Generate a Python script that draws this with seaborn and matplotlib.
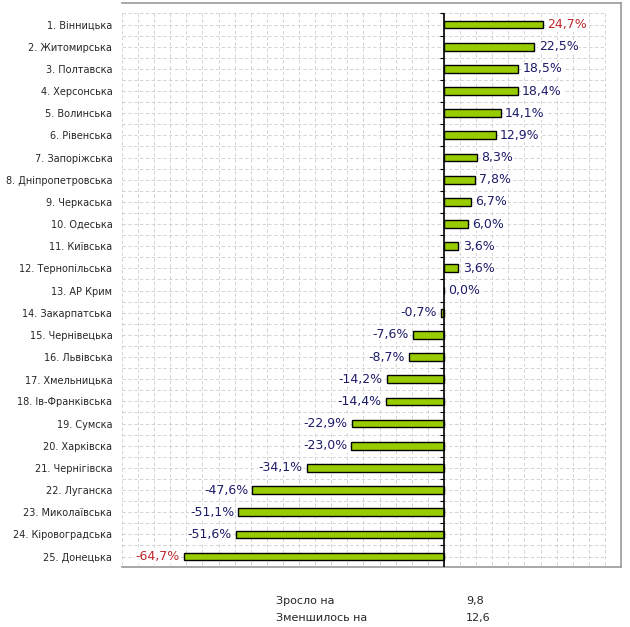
import numpy as np
import pandas as pd
import matplotlib
matplotlib.use('Agg')
import matplotlib.pyplot as plt
import seaborn as sns

regions = ['1. Вінницька', '2. Житомирська', '3. Полтавска', '4. Херсонська', '5. Волинська',
           '6. Рівенська', '7. Запоріжська', '8. Дніпропетровська', '9. Черкаська', '10. Одеська',
           '11. Київська', '12. Тернопільська', '13. АР Крим', '14. Закарпатська', '15. Чернівецька',
           '16. Львівська', '17. Хмельницька', '18. Ів-Франківська', '19. Сумска', '20. Харківска',
           '21. Чернігівска', '22. Луганска', '23. Миколаївська', '24. Кіровоградська', '25. Донецька']
change = [24.7, 22.5, 18.5, 18.4, 14.1, 12.9, 8.3, 7.8, 6.7, 6.0, 3.6, 3.6, 0.0, -0.7, -7.6,
          -8.7, -14.2, -14.4, -22.9, -23.0, -34.1, -47.6, -51.1, -51.6, -64.7]
summary_labels = ['Зросло на', 'Зменшилось на']
summary_values = ['9,8', '12,6']

df = pd.DataFrame({'region': regions, 'change': change})

sns.set_style('white')
plt.rcParams['font.family'] = ['DejaVu Sans']

fig = plt.figure(figsize=(6.3, 6.27), dpi=100)
ax = fig.add_axes([122 / 630, 1 - 567 / 627, 499 / 630, 564 / 627])

sns.barplot(data=df, x='change', y='region', orient='h', color='#99cc00',
            edgecolor='black', linewidth=1.0, width=0.35, saturation=1, ax=ax)

n = len(regions)
ax.set_xlim(-80, 44)
ax.set_ylim(n - 0.53, -0.97)

# dashed grid only inside the plotting region
grid_kw = dict(color='#cccccc', linestyle=(0, (4, 3)), linewidth=0.6, zorder=0)
ax.vlines(np.arange(-80, 41, 4), -0.5, n - 0.5, **grid_kw)
ax.hlines(np.arange(-0.5, n, 0.5), -80, 40, **grid_kw)

# zero axis with small ticks
ax.vlines(0, -0.5, n - 0.45, color='black', linewidth=1.2, zorder=4)
ax.hlines(np.arange(-0.5, n, 1.0), -0.9, 0, color='black', linewidth=0.8, zorder=4)

vmax, vmin = max(change), min(change)
for i, v in enumerate(change):
    txt = f'{v:.1f}'.replace('.', ',') + '%'
    col = '#c0282d' if v in (vmax, vmin) else '#1c1c6a'
    if v >= 0:
        ax.annotate(txt, (v, i), xytext=(3, 0), textcoords='offset points', ha='left', va='center',
                    fontsize=9, color=col, zorder=5,
                    bbox=dict(boxstyle='square,pad=0.05', fc='white', ec='none'))
    else:
        ax.annotate(txt, (v, i), xytext=(-3, 0), textcoords='offset points', ha='right', va='center',
                    fontsize=9, color=col, zorder=5,
                    bbox=dict(boxstyle='square,pad=0.05', fc='white', ec='none'))

ax.set_xticks([])
ax.set_xlabel('')
ax.set_ylabel('')
ax.tick_params(axis='y', length=0, pad=7, labelsize=7)

for side in ['top', 'right', 'bottom']:
    ax.spines[side].set_color('#999999')
    ax.spines[side].set_linewidth(1.2)
ax.spines['left'].set_visible(False)

for k, (lab, val) in enumerate(zip(summary_labels, summary_values)):
    y = 1 - (601 + 17 * k) / 627
    fig.text(276 / 630, y, lab, fontsize=8, va='center', ha='left')
    fig.text(466 / 630, y, val, fontsize=8, va='center', ha='left')

fig.savefig('out.png', dpi=100)
